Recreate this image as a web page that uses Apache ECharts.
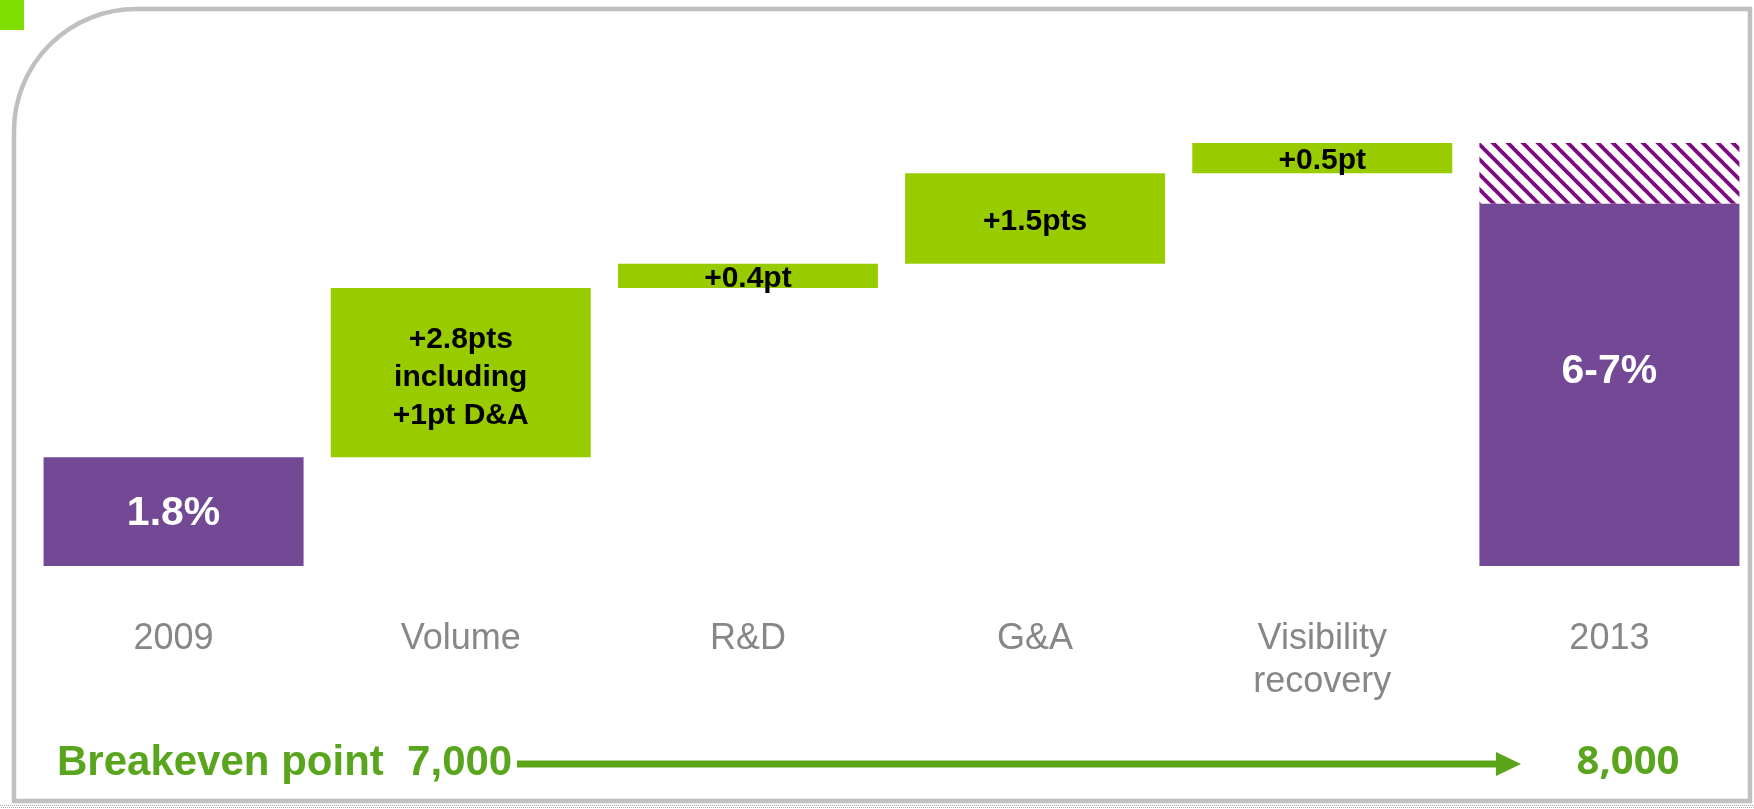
<!DOCTYPE html>
<html>
<head>
<meta charset="utf-8">
<script src="https://cdn.jsdelivr.net/npm/echarts@6/dist/echarts.min.js"></script>
<style>
  html, body { margin: 0; padding: 0; background: #ffffff; }
  #chart { width: 1754px; height: 809px; }
</style>
</head>
<body>
<div id="chart"></div>
<script>
// Operating margin bridge, 2009 -> 2013
const categories = ['2009', 'Volume', 'R&D', 'G&A', 'Visibility\nrecovery', '2013'];
const startMargin = 1.8;
const steps = [2.8, 0.4, 1.5, 0.5];
const endRange = [6, 7];
const startLabel = '1.8%';
const stepLabels = ['+2.8pts\nincluding\n+1pt D&A', '+0.4pt', '+1.5pts', '+0.5pt'];
const endLabel = '6-7%';
const breakevenText = 'Breakeven point  7,000';
const breakevenTarget = '8,000';

const PURPLE = '#734995';
const GREEN = '#99cc00';
const TEXT_GREEN = '#5aa51e';

// invisible offsets that lift each step bar onto the running total
const base = [0];
let running = startMargin;
steps.forEach(s => { base.push(running); running += s; });
base.push(0);

const purpleData = [
  { value: startMargin, label: { offset: [0, 2] } },
  '-', '-', '-', '-',
  { value: endRange[0], label: { position: ['50%', '46.5%'] } }];
const greenData = ['-'].concat(
  steps.map((v, i) => ({ value: v, label: { offset: [0, i === 0 ? 5 : 3] } })),
  ['-']);
const hatchData = ['-', '-', '-', '-', '-', endRange[1] - endRange[0]];

// diagonal purple stripes for the upper part of the target range
function stripes() {
  const p = 15;
  const c = document.createElement('canvas');
  c.width = p; c.height = p;
  const g = c.getContext('2d');
  g.fillStyle = '#ffffff';
  g.fillRect(0, 0, p, p);
  g.strokeStyle = '#7d0a80';
  g.lineWidth = 3.8;
  for (let k = -1; k <= 1; k++) {
    g.beginPath();
    g.moveTo(k * p - 2, -2);
    g.lineTo(k * p + p + 2, p + 2);
    g.stroke();
  }
  return c;
}

const chart = echarts.init(document.getElementById('chart'), null, { renderer: 'canvas' });

chart.setOption({
  animation: false,
  backgroundColor: '#ffffff',
  grid: { left: 30, right: 1, top: 143, bottom: 243 },
  xAxis: {
    type: 'category',
    data: categories,
    axisLine: { show: false },
    axisTick: { show: false },
    axisLabel: {
      color: '#878787',
      fontFamily: 'Liberation Sans',
      fontSize: 36,
      lineHeight: 43,
      margin: 52,
      interval: 0
    }
  },
  yAxis: {
    type: 'value',
    min: 0,
    max: 7,
    show: false,
    splitLine: { show: false }
  },
  series: [
    {
      type: 'bar', stack: 'bridge', barWidth: 260,
      data: base,
      itemStyle: { color: 'rgba(0,0,0,0)' },
      silent: true
    },
    {
      type: 'bar', stack: 'bridge', barWidth: 260,
      data: purpleData,
      itemStyle: { color: PURPLE },
      label: {
        show: true,
        position: 'inside',
        align: 'center',
        verticalAlign: 'middle',
        formatter: p => (p.dataIndex === 0 ? startLabel : endLabel),
        color: '#ffffff',
        fontFamily: 'Liberation Sans',
        fontWeight: 'bold',
        fontSize: 41
      }
    },
    {
      type: 'bar', stack: 'bridge', barWidth: 260,
      data: greenData,
      itemStyle: { color: GREEN },
      label: {
        show: true,
        position: 'inside',
        formatter: p => stepLabels[p.dataIndex - 1],
        color: '#000000',
        fontFamily: 'Liberation Sans',
        fontWeight: 'bold',
        fontSize: 30,
        lineHeight: 38
      }
    },
    {
      type: 'bar', stack: 'bridge', barWidth: 260,
      data: hatchData,
      itemStyle: { color: { image: stripes(), repeat: 'repeat' } }
    }
  ],
  graphic: [
    {
      type: 'rect',
      shape: { x: 14, y: 9, width: 1736, height: 792, r: [122, 0, 0, 0] },
      style: { fill: 'none', stroke: '#c0c0c0', lineWidth: 4.5 },
      z: -1
    },
    {
      type: 'rect',
      shape: { x: 0, y: 0, width: 24, height: 30 },
      style: { fill: '#7fe000' }
    },
    {
      type: 'line',
      shape: { x1: 0, y1: 805.5, x2: 1754, y2: 805.5 },
      style: { stroke: '#a8a8a8', lineWidth: 1, lineDash: [1, 1] }
    },
    {
      type: 'line',
      shape: { x1: 1, y1: 807.5, x2: 1754, y2: 807.5 },
      style: { stroke: '#a8a8a8', lineWidth: 1, lineDash: [1, 1] }
    },
    {
      type: 'text',
      x: 57, y: 763,
      style: {
        text: breakevenText,
        fill: TEXT_GREEN,
        font: 'bold 42px "Liberation Sans"',
        textAlign: 'left',
        textVerticalAlign: 'middle'
      }
    },
    {
      type: 'line',
      shape: { x1: 517, y1: 764, x2: 1498, y2: 764 },
      style: { stroke: '#5aa51a', lineWidth: 7 }
    },
    {
      type: 'polygon',
      shape: { points: [[1496, 752], [1521, 764], [1496, 776]] },
      style: { fill: '#5aa51a' }
    },
    {
      type: 'text',
      x: 1628, y: 763,
      style: {
        text: breakevenTarget,
        fill: TEXT_GREEN,
        font: 'bold 40px "Noto Sans"',
        textAlign: 'center',
        textVerticalAlign: 'middle'
      }
    }
  ]
});
</script>
</body>
</html>
